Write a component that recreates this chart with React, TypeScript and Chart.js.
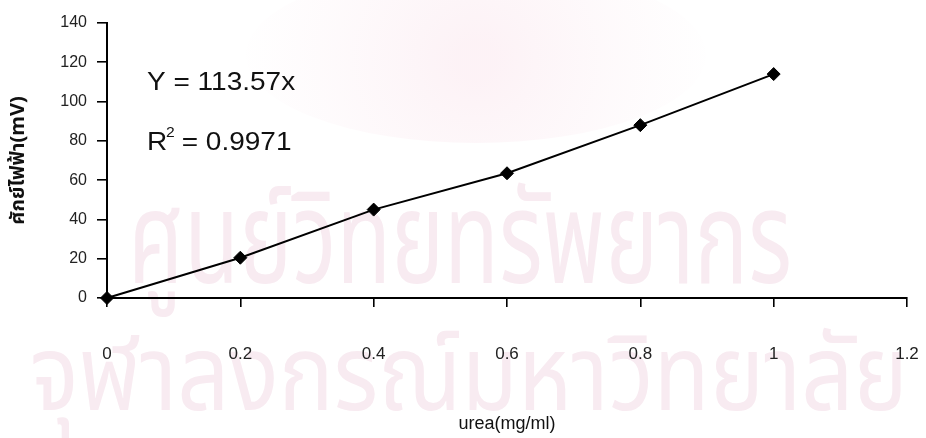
import { useEffect, useRef } from "react";
import { Chart, registerables } from "chart.js";

Chart.register(...registerables);

// Calibration data: electrode potential vs. urea concentration
const ureaConc = [0, 0.2, 0.4, 0.6, 0.8, 1.0];
const potentialMv = [0, 20.5, 45, 63.5, 88, 114];

const xTickValues = [0, 0.2, 0.4, 0.6, 0.8, 1, 1.2];
const yTickValues = [0, 20, 40, 60, 80, 100, 120, 140];

const xTitle = "urea(mg/ml)";
const yTitle = "ศักย์ไฟฟ้า(mV)";

const fitEquation = "Y = 113.57x";
const fitR2Value = "0.9971";

const watermarkLines = ["ศูนย์วิทยทรัพยากร", "จุฬาลงกรณ์มหาวิทยาลัย"];

const FONT = "'Liberation Sans', Arial, Helvetica, sans-serif";
const THAI_FONT = "'Noto Sans Thai', 'Noto Sans', 'DejaVu Sans', sans-serif";

// Faint library watermark behind the plot
const watermarkPlugin = {
  id: "watermark",
  beforeDraw(chart: any) {
    const ctx = chart.ctx as CanvasRenderingContext2D;
    ctx.save();
    ctx.fillStyle = "#ffffff";
    ctx.fillRect(0, 0, chart.width, chart.height);

    // pale emblem shape
    const g = ctx.createRadialGradient(476, 60, 20, 476, 60, 240);
    g.addColorStop(0, "rgba(252,238,243,0.75)");
    g.addColorStop(1, "rgba(252,242,246,0.0)");
    ctx.fillStyle = g;
    ctx.beginPath();
    ctx.ellipse(476, 55, 230, 88, 0, 0, Math.PI * 2);
    ctx.fill();

    ctx.fillStyle = "#f8ebf1";
    ctx.textBaseline = "alphabetic";
    ctx.textAlign = "left";
    const rows = [
      { text: watermarkLines[0], x: 128, y: 283, w: 664, size: 128 },
      { text: watermarkLines[1], x: 30, y: 410, w: 878, size: 106 },
    ];
    for (const r of rows) {
      ctx.font = `${r.size}px ${THAI_FONT}`;
      const mw = ctx.measureText(r.text).width || 1;
      ctx.save();
      ctx.translate(r.x, r.y);
      ctx.scale(r.w / mw, 1);
      ctx.fillText(r.text, 0, 0);
      ctx.restore();
    }
    ctx.restore();
  },
};

// Regression equation and coefficient of determination
const equationPlugin = {
  id: "equation",
  afterDatasetsDraw(chart: any) {
    const ctx = chart.ctx as CanvasRenderingContext2D;
    ctx.save();
    ctx.fillStyle = "#111111";
    ctx.textBaseline = "alphabetic";
    ctx.textAlign = "left";
    const stretch = 1.12;

    ctx.save();
    ctx.translate(147, 90);
    ctx.scale(stretch, 1);
    ctx.font = `25px ${FONT}`;
    ctx.fillText(fitEquation, 0, 0);
    ctx.restore();

    ctx.save();
    ctx.translate(147, 150);
    ctx.scale(stretch, 1);
    ctx.font = `25px ${FONT}`;
    ctx.fillText("R", 0, 0);
    const rw = ctx.measureText("R").width;
    ctx.font = `14px ${FONT}`;
    ctx.fillText("2", rw - 1, -13);
    ctx.font = `25px ${FONT}`;
    ctx.fillText(` = ${fitR2Value}`, rw + 6, 0);
    ctx.restore();

    ctx.restore();
  },
};

export default function App() {
  const canvasRef = useRef<HTMLCanvasElement | null>(null);

  useEffect(() => {
    const canvas = canvasRef.current;
    if (!canvas) return;

    const chart = new Chart(canvas, {
      type: "scatter",
      data: {
        datasets: [
          {
            label: "potential",
            data: ureaConc.map((x, i) => ({ x, y: potentialMv[i] })),
            showLine: true,
            borderColor: "#000000",
            borderWidth: 2,
            pointStyle: "rectRot",
            pointRadius: 6.5,
            pointHoverRadius: 6.5,
            pointBackgroundColor: "#000000",
            pointBorderColor: "#000000",
            pointBorderWidth: 1,
            clip: false,
          } as any,
        ],
      },
      options: {
        responsive: false,
        animation: false,
        events: [],
        layout: { padding: { top: 23, right: 19, left: 0, bottom: 0 } },
        plugins: {
          legend: { display: false },
          tooltip: { enabled: false },
        },
        scales: {
          x: {
            type: "linear",
            position: "bottom",
            min: 0,
            max: 1.2,
            afterBuildTicks: (scale: any) => {
              scale.ticks = xTickValues.map((value) => ({ value }));
            },
            afterFit: (scale: any) => {
              scale.height = 140;
              scale.paddingLeft = 0;
              scale.paddingRight = 0;
            },
            border: { display: true, color: "#000000", width: 2 },
            grid: {
              drawOnChartArea: false,
              drawTicks: true,
              tickLength: 9,
              color: "#000000",
              lineWidth: 1.6,
            },
            ticks: {
              color: "#222222",
              font: { family: FONT, size: 17 },
              padding: 37,
              maxRotation: 0,
              autoSkip: false,
              callback: (v: any) => `${+Number(v).toFixed(1)}`,
            },
            title: {
              display: true,
              text: xTitle,
              color: "#111111",
              font: { family: FONT, size: 18 },
              padding: { top: 0, bottom: 3 },
            },
          },
          y: {
            type: "linear",
            position: "left",
            min: 0,
            max: 140,
            afterBuildTicks: (scale: any) => {
              scale.ticks = yTickValues.map((value) => ({ value }));
            },
            afterFit: (scale: any) => {
              scale.width = 107;
              scale.paddingTop = 0;
              scale.paddingBottom = 0;
            },
            border: { display: true, color: "#000000", width: 2 },
            grid: {
              drawOnChartArea: false,
              drawTicks: true,
              tickLength: 10,
              color: "#000000",
              lineWidth: 1.6,
            },
            ticks: {
              color: "#222222",
              font: { family: FONT, size: 16 },
              padding: 10,
              autoSkip: false,
            },
            title: {
              display: true,
              text: yTitle,
              color: "#111111",
              font: { family: THAI_FONT, size: 20, weight: "bold" },
              padding: { top: 8, bottom: 0 },
            },
          },
        },
      },
      plugins: [watermarkPlugin, equationPlugin],
    });

    return () => chart.destroy();
  }, []);

  return (
    <div style={{ position: "fixed", left: 0, top: 0, width: 926, height: 438, background: "#ffffff" }}>
      <canvas ref={canvasRef} width={926} height={438} style={{ display: "block" }} />
    </div>
  );
}
